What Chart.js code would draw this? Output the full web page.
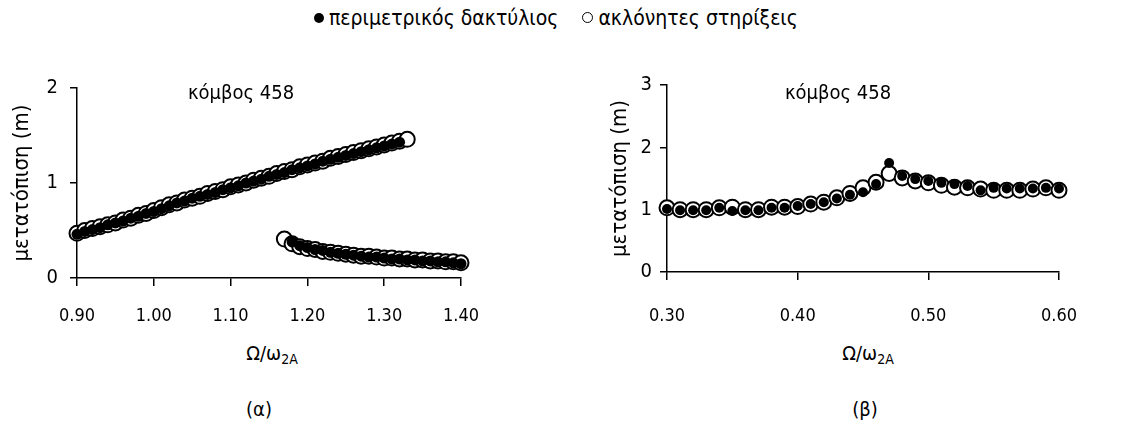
<!DOCTYPE html>
<html>
<head>
<meta charset="utf-8">
<script src="https://cdn.jsdelivr.net/npm/chart.js@4.4.0/dist/chart.umd.min.js"></script>
<style>
  body { margin: 0; width: 1128px; height: 430px; background: #fff; position: relative; overflow: hidden;
         font-family: "DejaVu Sans Condensed", "DejaVu Sans", sans-serif; color: #000; }
  .abs { position: absolute; white-space: nowrap; }
  .c { transform: translateX(-50%); }
  #legend { top: 5px; left: 314px; font-size: 21px; line-height: 26px; }
  .dot { display: inline-block; width: 10px; height: 10px; border-radius: 50%; background: #000; margin-right: 5px; vertical-align: 2px; }
  .ring { display: inline-block; width: 9px; height: 9px; border-radius: 50%; border: 1.5px solid #000; margin-left: 24px; margin-right: 5px; vertical-align: 2px; }
  .note { font-size: 20px; top: 80px; }
  .xtitle { font-size: 20px; top: 341px; }
  .xtitle sub { font-size: 14px; vertical-align: -4px; }
  .cap { font-size: 20px; top: 397px; }
  canvas { position: absolute; }
</style>
</head>
<body>
<div id="legend" class="abs"><span class="dot"></span>περιμετρικός δακτύλιος<span class="ring"></span>ακλόνητες στηρίξεις</div>

<canvas id="chartA" width="560" height="280" style="left:0;top:60px"></canvas>
<canvas id="chartB" width="564" height="280" style="left:564px;top:60px"></canvas>

<div class="abs c note" style="left:241px">κόμβος 458</div>
<div class="abs c note" style="left:838px">κόμβος 458</div>
<div class="abs c xtitle" style="left:272px">Ω/ω<sub>2A</sub></div>
<div class="abs c xtitle" style="left:868px">Ω/ω<sub>2A</sub></div>
<div class="abs c cap" style="left:259px">(α)</div>
<div class="abs c cap" style="left:865px">(β)</div>

<script>
// (α) upper branch
const aUpperX = [0.90,0.91,0.92,0.93,0.94,0.95,0.96,0.97,0.98,0.99,1.00,1.01,1.02,1.03,1.04,1.05,1.06,1.07,1.08,1.09,1.10,
  1.11,1.12,1.13,1.14,1.15,1.16,1.17,1.18,1.19,1.20,1.21,1.22,1.23,1.24,1.25,1.26,1.27,1.28,1.29,1.30,1.31,1.32,1.33];
const aUpperFixed = [0.47,0.50,0.52,0.54,0.56,0.58,0.61,0.63,0.66,0.68,0.71,0.74,0.77,0.79,0.82,0.84,0.86,0.89,0.91,0.93,0.96,
  0.98,1.00,1.03,1.05,1.07,1.10,1.12,1.14,1.17,1.19,1.21,1.23,1.26,1.28,1.30,1.32,1.34,1.36,1.38,1.40,1.42,1.44,1.46];
// ring ends one step earlier
const aUpperRing = [0.46,0.49,0.51,0.53,0.56,0.58,0.60,0.63,0.65,0.68,0.70,0.73,0.76,0.79,0.81,0.84,0.86,0.88,0.90,0.93,0.95,
  0.97,1.00,1.02,1.04,1.07,1.09,1.11,1.14,1.16,1.18,1.20,1.23,1.25,1.27,1.29,1.31,1.33,1.35,1.37,1.39,1.41,1.43];

// (α) lower branch
const aLowerX = [1.17,1.18,1.19,1.20,1.21,1.22,1.23,1.24,1.25,1.26,1.27,1.28,1.29,1.30,1.31,1.32,1.33,1.34,1.35,1.36,1.37,1.38,1.39,1.40];
const aLowerFixed = [0.41,0.36,0.33,0.31,0.30,0.28,0.27,0.26,0.25,0.24,0.23,0.23,0.22,0.21,0.21,0.20,0.20,0.19,0.19,0.18,0.18,0.17,0.17,0.16];
// ring starts one step later
const aLowerRing = [0.38,0.34,0.32,0.30,0.29,0.27,0.26,0.25,0.24,0.23,0.22,0.22,0.21,0.20,0.20,0.19,0.19,0.18,0.18,0.17,0.17,0.16,0.15];

// (β)
const bX = [0.30,0.31,0.32,0.33,0.34,0.35,0.36,0.37,0.38,0.39,0.40,0.41,0.42,0.43,0.44,0.45,0.46,0.47,0.48,0.49,0.50,
  0.51,0.52,0.53,0.54,0.55,0.56,0.57,0.58,0.59,0.60];
const bRing = [1.01,0.99,0.99,0.99,1.03,0.98,0.99,0.99,1.03,1.03,1.06,1.09,1.12,1.18,1.24,1.28,1.41,1.75,1.54,1.49,1.46,
  1.43,1.41,1.38,1.31,1.35,1.34,1.34,1.34,1.35,1.34];
const bFixed = [1.03,1.00,1.00,1.00,1.03,1.04,1.00,1.00,1.04,1.04,1.05,1.09,1.12,1.19,1.26,1.35,1.44,1.58,1.51,1.46,1.43,
  1.39,1.36,1.35,1.33,1.31,1.31,1.31,1.33,1.35,1.31];

const FONT = '"DejaVu Sans Condensed", "DejaVu Sans", sans-serif';
Chart.defaults.font.family = FONT;
Chart.defaults.color = '#000';

function pts(xs, ys, offset) {
  return ys.map((y, i) => ({ x: xs[i + (offset || 0)], y }));
}

function makeChart(id, cfg) {
  return new Chart(document.getElementById(id), {
    type: 'scatter',
    data: {
      datasets: [
        {
          label: 'περιμετρικός δακτύλιος',
          data: cfg.ring,
          pointStyle: 'circle',
          pointRadius: cfg.dotR,
          pointBackgroundColor: '#000',
          pointBorderColor: '#000',
          pointBorderWidth: 0,
          clip: false,
          order: 1,
        },
        {
          label: 'ακλόνητες στηρίξεις',
          data: cfg.fixed,
          pointStyle: 'circle',
          pointRadius: cfg.ringR,
          pointBackgroundColor: '#fff',
          pointBorderColor: '#000',
          pointBorderWidth: 2,
          clip: false,
          order: 2,
        },
      ],
    },
    options: {
      responsive: false,
      animation: false,
      events: [],
      layout: { padding: { left: 0, top: cfg.padTop, right: cfg.padRight, bottom: 0 } },
      plugins: { legend: { display: false }, tooltip: { enabled: false } },
      scales: {
        x: {
          type: 'linear',
          min: cfg.xMin, max: cfg.xMax,
          border: { color: '#000', width: 1.5 },
          grid: { drawOnChartArea: false, color: '#000', lineWidth: 1.5, tickLength: 8 },
          ticks: { stepSize: 0.1, padding: cfg.xPad, font: { size: 18 }, maxRotation: 0,
                   callback: v => Number(v).toFixed(2) },
          afterFit: s => { s.height = cfg.xH; },
        },
        y: {
          min: 0, max: cfg.yMax,
          border: { color: '#000', width: 1.5 },
          grid: { drawOnChartArea: false, color: '#000', lineWidth: 1.5, tickLength: 7 },
          ticks: { stepSize: 1, padding: cfg.yPad, font: { size: 20 } },
          title: { display: true, text: 'μετατόπιση (m)', font: { size: 22 }, padding: { top: cfg.titlePad, bottom: 0 } },
          afterFit: s => { s.width = cfg.yW; },
        },
      },
    },
  });
}

makeChart('chartA', {
  fixed: pts(aUpperX, aUpperFixed).concat(pts(aLowerX, aLowerFixed)),
  ring: pts(aUpperX, aUpperRing).concat(pts(aLowerX, aLowerRing, 1)),
  dotR: 5.5, ringR: 7.5,
  xMin: 0.9, xMax: 1.4, yMax: 2,
  padTop: 28, padRight: 99, xH: 62, yW: 77,
  xPad: 20, yPad: 12, titlePad: 9,
});

makeChart('chartB', {
  fixed: pts(bX, bFixed),
  ring: pts(bX, bRing),
  dotR: 5, ringR: 7.5,
  xMin: 0.3, xMax: 0.6, yMax: 3,
  padTop: 25, padRight: 69, xH: 68, yW: 103,
  xPad: 26, yPad: 8, titlePad: 43,
});
</script>
</body>
</html>
